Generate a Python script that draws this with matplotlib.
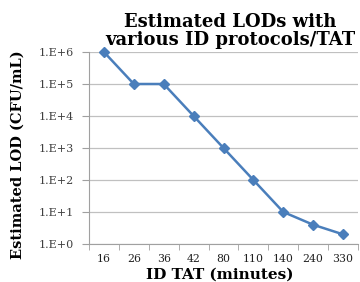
import matplotlib
matplotlib.use("Agg")
import matplotlib.pyplot as plt
import numpy as np

categories = ["16", "26", "36", "42", "80", "110", "140", "240", "330"]
lod_values = [1e6, 1e5, 1e5, 1e4, 1e3, 1e2, 1e1, 4, 2]
ytick_values = [1e0, 1e1, 1e2, 1e3, 1e4, 1e5, 1e6]
ytick_labels = ["1.E+0", "1.E+1", "1.E+2", "1.E+3", "1.E+4", "1.E+5", "1.E+6"]

serif = ["DejaVu Serif"]
fig = plt.figure(figsize=(3.6, 2.82), dpi=100)
ax = fig.add_axes([89/360, 1-244/282, (358-89)/360, (244-52)/282])

x = np.arange(len(categories))
ax.plot(x, lod_values, color="#4A7EBB", lw=1.8, marker="D", ms=5, zorder=3, clip_on=False)
ax.set_yscale("log")
ax.set_ylim(1e0, 1e6)
ax.set_xlim(-0.5, len(categories) - 0.5)
ax.set_yticks(ytick_values)
ax.set_yticklabels(ytick_labels, family=serif, fontsize=8, color="#404040")
ax.yaxis.set_minor_locator(matplotlib.ticker.NullLocator())
ax.set_xticks(x)
ax.set_xticklabels(categories, family=serif, fontsize=7.8, color="#202020")
ax.set_xticks(np.arange(-0.5, len(categories)), minor=True)
ax.tick_params(axis="x", which="major", length=0, pad=7)
ax.tick_params(axis="x", which="minor", length=4, color="#A0A0A0", direction="out")
ax.tick_params(axis="y", length=5, color="#A0A0A0", pad=6)
ax.grid(axis="y", color="#C0C0C0", lw=0.9)
ax.set_axisbelow(True)
for s in ["top", "right"]:
    ax.spines[s].set_visible(False)
for s in ["left", "bottom"]:
    ax.spines[s].set_color("#A0A0A0")

fig.text(18/360, 1-155/282, "Estimated LOD (CFU/mL)", family=serif, fontsize=10.5,
         fontweight="bold", rotation=90, ha="center", va="center")
fig.text(220/360, 1-275/282, "ID TAT (minutes)", family=serif, fontsize=11,
         fontweight="bold", ha="center", va="center")
fig.text(230/360, 1-31/282, "Estimated LODs with\nvarious ID protocols/TAT", family=serif,
         fontsize=13, fontweight="bold", ha="center", va="center", linespacing=0.95)

fig.savefig("out.png", dpi=100)
